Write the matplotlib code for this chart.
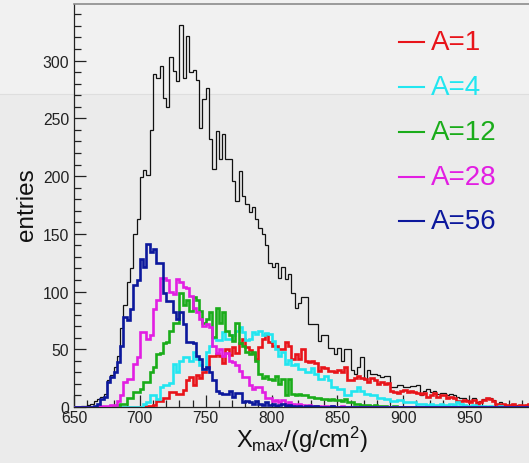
import numpy as np
import matplotlib
matplotlib.use("Agg")
import matplotlib.pyplot as plt
from matplotlib.lines import Line2D
from matplotlib.patches import Rectangle

plt.rcParams['font.family'] = ['Liberation Sans', 'DejaVu Sans']
plt.rcParams['mathtext.fontset'] = 'custom'
plt.rcParams['mathtext.rm'] = 'Liberation Sans'
plt.rcParams['mathtext.it'] = 'Liberation Sans:italic'

# Histogram binning in Xmax (g/cm^2)
bin_lo = 650.0
bin_width = 2.5

# Entries per bin, grouped by 10 g/cm^2 (4 bins per line)
total = [
    0, 0, 1, 1,         2, 3, 5, 7,         9, 11, 23, 28,      35, 44, 68, 88,
    108, 120, 150, 163, 199, 205, 201, 240, 288, 285, 295, 268, 260, 303, 291, 282,
    331, 285, 321, 290, 292, 283, 242, 267, 276, 232, 206, 239, 215, 236, 215, 215,
    196, 178, 204, 183, 176, 169, 173, 163, 155, 150, 140, 125, 121, 125, 112, 121,
    111, 115, 99, 86,   90, 95, 95, 72,     72, 72, 57, 62,     62, 51, 51, 46,
    51, 40, 50, 50,     32, 29, 35, 43,     24, 32, 29, 29,     28, 26, 27, 27,
    17, 17, 19, 19,     17, 17, 18, 18,     19, 10, 14, 16,     13, 14, 11, 12,
    12, 10, 11, 10,     9, 8, 8, 6,         5, 8, 4, 5,         7, 8, 8, 6,
    3, 4, 3, 2,         2, 3, 2, 2,         2, 2, 3, 1,
]

a1 = [
    0, 0, 0, 0,   0, 0, 0, 0,   0, 0, 0, 0,   0, 0, 0, 0,   0, 0, 0, 0,
    0, 0, 1, 1,   2, 5, 5, 8,   8, 13, 13, 11, 11, 15, 23, 26, 19, 28, 25, 30,
    34, 44, 44, 46, 44, 38, 50, 45, 52, 47, 55, 59, 52, 49, 47, 42, 52, 59, 63, 56,
    53, 53, 50, 50, 56, 53, 42, 46, 42, 50, 40, 39, 40, 38, 31, 35, 34, 31, 31, 30,
    32, 30, 35, 23, 23, 25, 27, 25, 24, 22, 25, 23, 20, 22, 20, 21, 14, 13, 12, 14,
    15, 13, 14, 13, 12, 11, 12, 9, 10, 12, 9, 10, 10, 8, 9, 8,  5, 5, 6, 5,
    4, 6, 3, 4,   6, 8, 7, 5,   3, 2, 3, 2,   2, 3, 1, 2,   1, 2, 3, 1,
]

a4 = [
    0, 0, 0, 0,   0, 0, 0, 0,   0, 0, 0, 0,   0, 0, 0, 0,   0, 0, 0, 0,
    0, 3, 4, 10,  10, 7, 17, 19, 19, 21, 37, 30, 40, 43, 43, 40, 48, 42, 36, 33,
    48, 53, 60, 58, 58, 65, 59, 59, 62, 66, 69, 65, 58, 59, 65, 63, 66, 62, 64, 63,
    57, 50, 44, 48, 37, 41, 36, 37, 33, 33, 30, 30, 34, 29, 24, 24, 27, 23, 17, 17,
    16, 16, 10, 10, 14, 14, 17, 14, 11, 11, 10, 10, 8, 8, 7, 7,   5, 5, 6, 6,
    4, 4, 4, 4,   3, 3, 3, 2,   3, 2, 2, 3,   2, 2, 3, 2,   4, 3, 2, 1,
    1, 2, 1, 1,   1, 0, 1, 0,   0, 1, 0, 0,   0, 0, 0, 0,   0, 0, 0, 0,
]

a12 = [
    0, 0, 0, 0,   0, 0, 0, 0,   0, 0, 0, 1,   1, 2, 3, 3,   8, 8, 13, 13,
    16, 22, 22, 30, 35, 46, 47, 55, 56, 66, 73, 73, 99, 88, 93, 83, 95, 93, 83, 73,
    76, 82, 61, 86, 73, 82, 66, 62, 57, 73, 55, 53, 48, 46, 48, 40, 29, 25, 27, 24,
    23, 27, 20, 24, 10, 24, 11, 10, 11, 10, 10, 9, 9, 8, 8, 7,   7, 6, 7, 6,
    6, 5, 7, 4,   4, 3, 3, 2,   2, 2, 1, 2,   1, 1, 1, 0,   0, 1, 0, 0,
    0, 0, 0, 0,   0, 0, 0, 0,   0, 0, 0, 0,   0, 0, 0, 0,   0, 0, 0, 0,
    0, 0, 0, 0,   0, 0, 0, 0,   0, 0, 0, 0,   0, 0, 0, 0,   0, 0, 0, 0,
]

a28 = [
    0, 0, 0, 0,   0, 0, 0, 0,   1, 1, 1, 2,   2, 5, 10, 22, 24, 24, 37, 43,
    65, 65, 59, 62, 85, 93, 112, 112, 110, 100, 98, 111, 108, 104, 103, 96, 86, 82, 76, 70,
    72, 69, 53, 47, 50, 44, 47, 40, 39, 36, 31, 26, 26, 19, 16, 17, 17, 13, 8, 8,
    5, 6, 4, 6,   3, 4, 3, 2,   3, 2, 1, 2,   1, 1, 1, 0,   1, 0, 1, 0,
    0, 1, 0, 0,   0, 0, 0, 0,   0, 0, 0, 0,   0, 0, 0, 0,   0, 0, 0, 0,
    0, 0, 0, 0,   0, 0, 0, 0,   0, 0, 0, 0,   0, 0, 0, 0,   0, 0, 0, 0,
    0, 0, 0, 0,   0, 0, 0, 0,   0, 0, 0, 0,   0, 0, 0, 0,   0, 0, 0, 0,
]

a56 = [
    0, 0, 0, 0,   0, 0, 1, 3,   7, 9, 22, 26, 30, 39, 53, 78, 75, 85, 106, 110,
    128, 121, 141, 134, 137, 125, 125, 99, 92, 92, 82, 76, 82, 72, 56, 56, 55, 44, 42, 33,
    35, 30, 23, 14, 12, 11, 11, 14, 9, 12, 12, 4,  5, 4, 3, 5,   3, 2, 4, 2,
    3, 1, 2, 3,   1, 2, 1, 0,   1, 0, 1, 1,   0, 1, 0, 0,   0, 0, 1, 0,
    0, 0, 0, 0,   0, 0, 0, 0,   0, 0, 0, 0,   0, 0, 0, 0,   0, 0, 0, 0,
    0, 0, 0, 0,   0, 0, 0, 0,   0, 0, 0, 0,   0, 0, 0, 0,   0, 0, 0, 0,
    0, 0, 0, 0,   0, 0, 0, 0,   0, 0, 0, 0,   0, 0, 0, 0,   0, 0, 0, 0,
]

labels = ["A=1", "A=4", "A=12", "A=28", "A=56"]
series = [a1, a4, a12, a28, a56]
colors = ["#e8141a", "#22e6f0", "#1aac1a", "#e21ee2", "#0c189c"]

edges = bin_lo + bin_width * np.arange(len(total) + 1)

W, H = 529, 464
fig = plt.figure(figsize=(W / 100, H / 100), dpi=100, facecolor="#ebebeb")

# two-tone backdrop
fig.add_artist(Rectangle((0, 1 - 95 / H), 1, 95 / H, transform=fig.transFigure,
                         facecolor="#f1f1f1", edgecolor="none", zorder=-10))
fig.add_artist(Line2D([0, 1], [1 - 95 / H] * 2, transform=fig.transFigure,
                      color="#dedede", lw=0.8, zorder=-9))

ax = fig.add_axes([74 / W, 56 / H, 461 / W, 403 / H])
ax.set_facecolor("none")

ax.stairs(total, edges, baseline=0, color="#111111", lw=0.9, zorder=2)
for vals, col in zip(series, colors):
    ax.stairs(vals, edges, baseline=0, color=col, lw=1.9, zorder=3)

ax.set_xlim(650, 1000)
ax.set_ylim(0, 349)

ax.set_xticks(np.arange(650, 1000, 50))
ax.set_xticks(np.arange(650, 1000, 10), minor=True)
ax.set_yticks(np.arange(0, 301, 50))
ax.set_yticks(np.arange(0, 341, 10), minor=True)

ax.tick_params(axis="both", which="both", direction="in", colors="#222222",
               labelsize=11.3, width=0.9)
ax.tick_params(which="major", length=8.5)
ax.tick_params(which="minor", length=5)
ax.tick_params(axis="x", pad=2)
ax.tick_params(axis="y", pad=3.5)

for side in ["left", "bottom"]:
    ax.spines[side].set_color("#222222")
    ax.spines[side].set_linewidth(0.9)
ax.spines["top"].set_color("#8c8c8c")
ax.spines["top"].set_linewidth(1.2)
ax.spines["right"].set_visible(False)

fig.text(27 / W, 1 - 205 / H, "entries", rotation=90, fontsize=17.5,
         ha="center", va="center", color="#111111")
fig.text(302 / W, 1 - 440 / H, r"X$_{\rm max}$/(g/cm$^{2}$)", fontsize=17,
         ha="center", va="center", color="#111111")

# legend entries
leg_y = [43, 88, 133, 178, 222]
for lab, col, py in zip(labels, colors, leg_y):
    fy = 1 - py / H
    fig.add_artist(Line2D([399 / W, 424 / W], [fy, fy], transform=fig.transFigure,
                          color=col, lw=1.5))
    fig.text(431 / W, fy, lab, color=col, fontsize=20, ha="left", va="center")

fig.savefig("out.png", dpi=100, facecolor=fig.get_facecolor())
